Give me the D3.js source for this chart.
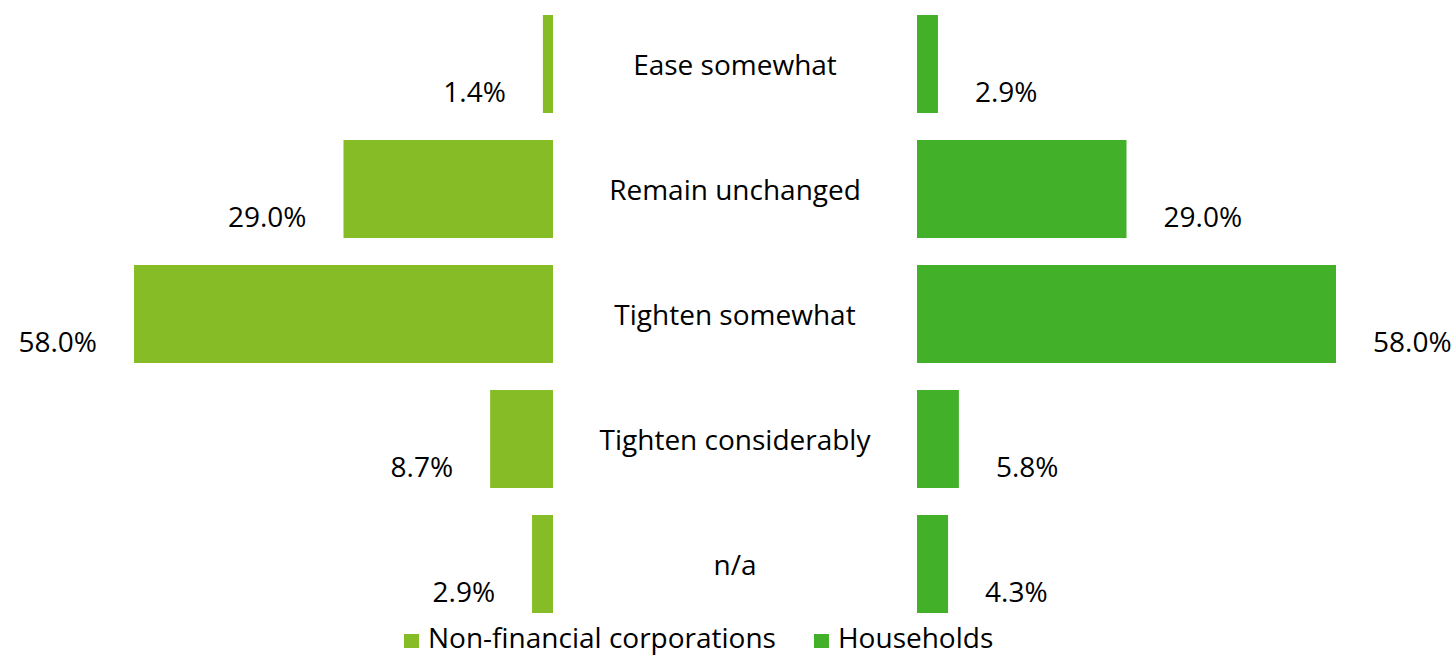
<!DOCTYPE html>
<html>
<head>
<meta charset="utf-8">
<script src="https://cdn.jsdelivr.net/npm/d3@7"></script>
<style>
  body { margin: 0; background: #fff; }
  svg text { font-family: "Open Sans", sans-serif; fill: #000; }
</style>
</head>
<body>
<svg width="1455" height="655"></svg>
<script>
const categories = ["Ease somewhat", "Remain unchanged", "Tighten somewhat", "Tighten considerably", "n/a"]
const corporations = [1.4, 29.0, 58.0, 8.7, 2.9]
const households = [2.9, 29.0, 58.0, 5.8, 4.3]
const seriesNames = ["Non-financial corporations", "Households"]
const colors = ["#86bc25", "#43b02a"]

const svg = d3.select("svg")
const fontSize = 28

const yScale = d3.scaleBand()
  .domain(categories)
  .range([15, 613])
  .paddingInner(0.216)
  .paddingOuter(0)

const xLeft = d3.scaleLinear().domain([0, 58]).range([553, 134])
const xRight = d3.scaleLinear().domain([0, 58]).range([917, 1336])

const labelGap = 37

function drawSide(values, xScale, color, side) {
  const g = svg.append("g").attr("class", "side-" + side)
  const rows = categories.map((c, i) => ({ cat: c, value: values[i] }))

  g.selectAll("rect")
    .data(rows)
    .join("rect")
    .attr("x", d => Math.min(xScale(0), xScale(d.value)))
    .attr("width", d => Math.abs(xScale(d.value) - xScale(0)))
    .attr("y", d => yScale(d.cat))
    .attr("height", yScale.bandwidth())
    .attr("fill", color)

  g.selectAll("text")
    .data(rows)
    .join("text")
    .attr("x", d => side === "left" ? xScale(d.value) - labelGap : xScale(d.value) + labelGap)
    .attr("y", d => yScale(d.cat) + yScale.bandwidth() - 11)
    .attr("text-anchor", side === "left" ? "end" : "start")
    .style("font-size", fontSize + "px")
    .text(d => d.value.toFixed(1) + "%")
}

drawSide(corporations, xLeft, colors[0], "left")
drawSide(households, xRight, colors[1], "right")

// category labels in the middle
svg.append("g").selectAll("text")
  .data(categories)
  .join("text")
  .attr("x", 735)
  .attr("y", d => yScale(d) + 60)
  .attr("text-anchor", "middle")
  .style("font-size", fontSize + "px")
  .text(d => d)

// legend
const legend = svg.append("g").attr("transform", "translate(404, 634)")
let offset = 0
seriesNames.forEach((name, i) => {
  const item = legend.append("g").attr("transform", `translate(${offset}, 0)`)
  item.append("rect")
    .attr("width", 15).attr("height", 14)
    .attr("fill", colors[i])
  const t = item.append("text")
    .attr("x", 24)
    .attr("y", 14)
    .style("font-size", fontSize + "px")
    .text(name)
  offset += 24 + t.node().getComputedTextLength() + 38
})
</script>
</body>
</html>
